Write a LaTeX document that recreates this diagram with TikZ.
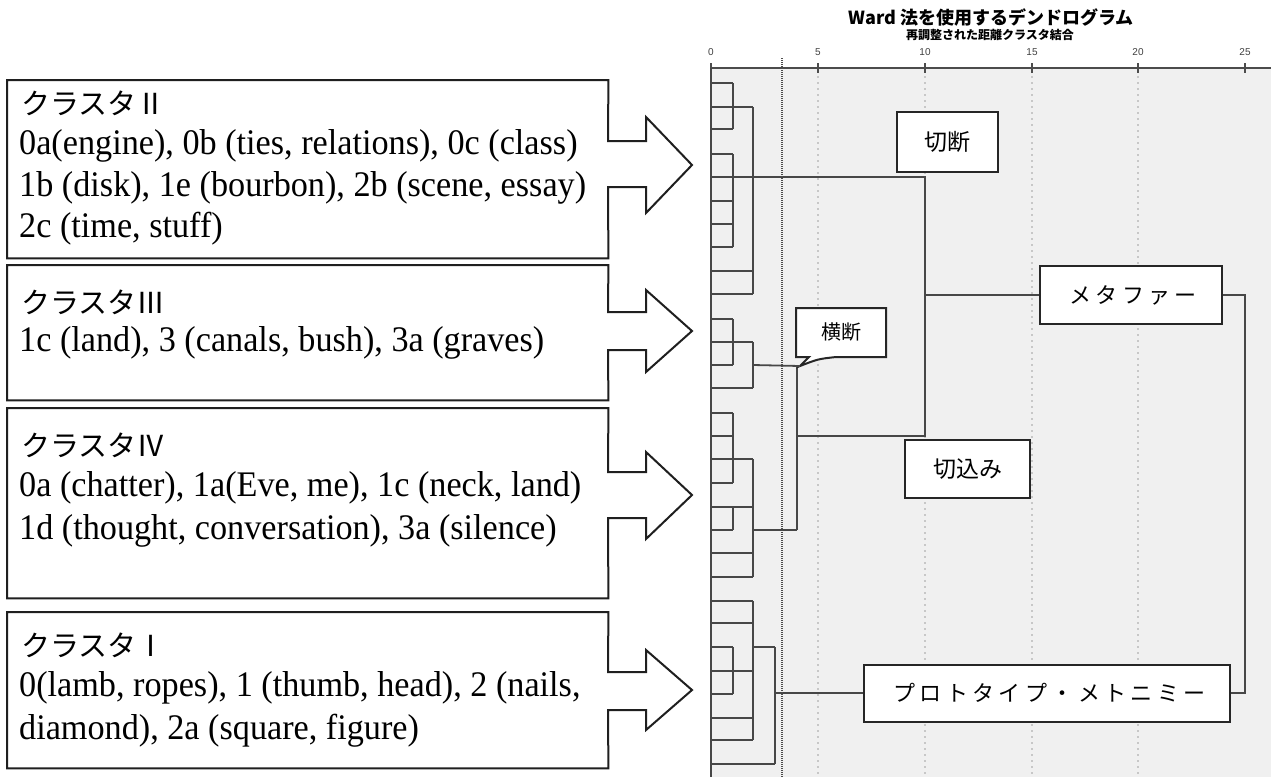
\documentclass[tikz,border=0pt]{standalone}
\usepackage{fontspec}
\setmainfont{Liberation Serif}
\newfontfamily\boxfont[FakeStretch=0.95]{Liberation Serif}
\newfontfamily\jp{Noto Sans CJK JP}
\newfontfamily\jpwide[LetterSpace=20]{Noto Sans CJK JP}
\newfontfamily\axisfont{Liberation Sans}
\begin{document}
\begin{tikzpicture}[x=1pt,y=-1pt,
  clbox/.style={draw=none, minimum width=601pt, inner sep=0pt, anchor=north west},
  outline/.style={draw=black!88, line width=2pt, fill=white, line join=miter},
  jline/.style={anchor=base west, inner sep=0pt, font=\jp\fontsize{29}{32}\selectfont},
  eline/.style={anchor=base west, inner sep=0pt, font=\boxfont\fontsize{36}{40}\selectfont},
  dline/.style={draw=black!72, line width=1.8pt},
  lab/.style={draw=black!85, line width=2pt, fill=white, inner sep=0pt},
  tick/.style={inner sep=0pt, text=black!75, font=\axisfont\fontsize{10}{12}\selectfont}
]
\useasboundingbox (0,0) rectangle (1271,777);
\fill[white] (0,0) rectangle (1271,777);

% ---------------- left cluster boxes ----------------
\node[clbox, minimum height=178pt] (b2) at (7,80) {};
\draw[outline] (b2.north west) -- (b2.north east) -- (608,141) -- (646,141) -- (646,117) -- (692,165)
  -- (646,213) -- (646,187) -- (608,187) -- (b2.south east) -- (b2.south west) -- cycle;
\node[jline] (b2a) at (21,114) {クラスタⅡ};
\node[eline] (b2b) at (19,154) {0a(engine), 0b (ties, relations), 0c (class)};
\node[eline] (b2c) at (19,196) {1b (disk), 1e (bourbon), 2b (scene, essay)};
\node[eline] (b2d) at (19,237) {2c (time, stuff)};

\node[clbox, minimum height=135pt] (b3) at (7,265) {};
\draw[outline] (b3.north west) -- (b3.north east) -- (608,312) -- (646,312) -- (646,290) -- (692,331)
  -- (646,372) -- (646,350) -- (608,350) -- (b3.south east) -- (b3.south west) -- cycle;
\node[jline] (b3a) at (21,313) {クラスタⅢ};
\node[eline] (b3b) at (19,351) {1c (land), 3 (canals, bush), 3a (graves)};

\node[clbox, minimum height=190pt] (b4) at (7,408) {};
\draw[outline] (b4.north west) -- (b4.north east) -- (608,472) -- (646,472) -- (646,452) -- (692,495)
  -- (646,539) -- (646,518) -- (608,518) -- (b4.south east) -- (b4.south west) -- cycle;
\node[jline] (b4a) at (21,456) {クラスタⅣ};
\node[eline] (b4b) at (19,496) {0a (chatter), 1a(Eve, me), 1c (neck, land)};
\node[eline] (b4c) at (19,539) {1d (thought, conversation), 3a (silence)};

\node[clbox, minimum height=156pt] (b1) at (7,612) {};
\draw[outline] (b1.north west) -- (b1.north east) -- (608,672) -- (646,672) -- (646,650) -- (692,690)
  -- (646,730) -- (646,710) -- (608,710) -- (b1.south east) -- (b1.south west) -- cycle;
\node[jline] (b1a) at (21,656) {クラスタⅠ};
\node[eline] (b1b) at (19,696) {0(lamb, ropes), 1 (thumb, head), 2 (nails,};
\node[eline] (b1c) at (19,739) {diamond), 2a (square, figure)};

% ---------------- dendrogram panel ----------------
\node[inner sep=0pt, font=\jp\bfseries\fontsize{18}{20}\selectfont] (title) at (991,18) {Ward 法を使用するデンドログラム};
\node[inner sep=0pt, font=\jp\bfseries\fontsize{12}{14}\selectfont] (subtitle) at (990,35) {再調整された距離クラスタ結合};

\fill[black!6] (711,68) rectangle (1271,777);
\foreach \x in {818,925,1032,1138}
  \draw[black!22, line width=1.2pt, dash pattern=on 2pt off 4pt] (\x,70) -- (\x,777);
\draw[black!70, line width=1.3pt, dash pattern=on 1pt off 1pt] (782,58) -- (782,777);
\draw[black!70, line width=1.8pt] (711,68) -- (1271,68);
\foreach \v/\x in {0/711,5/818,10/925,15/1032,20/1138,25/1245}{
  \draw[black!70, line width=1.2pt] (\x,63) -- (\x,73);
  \node[tick] (t\v) at (\x,52) {\v};
}
\draw[dline] (711,68) -- (711,777);

% leaves
\foreach \y in {83,129,154,201,224,247,319,365,413,436,483,530,647,694}
  \draw[dline] (711,\y) -- (733,\y);
\foreach \y in {107,271,294,342,388,459,507,553,577,601,623,671,718,740}
  \draw[dline] (711,\y) -- (753,\y);
\draw[dline] (711,764) -- (775,764);
\foreach \a/\b in {83/129,154/247,319/365,413/483,507/530,647/694}
  \draw[dline] (733,\a) -- (733,\b);
\foreach \a/\b in {107/294,342/388,459/577,601/740}
  \draw[dline] (753,\a) -- (753,\b);
\draw[dline] (775,647) -- (775,764);
\draw[dline] (753,647) -- (775,647);
\draw[dline] (797,365) -- (797,530);
\draw[dline] (753,530) -- (797,530);
\draw[dline] (711,177) -- (925,177) -- (925,436) -- (797,436);

\coordinate (c10) at (925,0);
\coordinate (c25) at (1245,0);
\coordinate (c775) at (775,0);
\coordinate (tip) at (800,366);

% labels
\node[lab, minimum width=101pt, minimum height=60pt, font=\jp\fontsize{23}{26}\selectfont] (setsudan) at (947.5,142) {切断};
\node[lab, minimum width=182pt, minimum height=58pt, font=\jpwide\fontsize{22}{26}\selectfont] (meta) at (1131,295) {\hspace*{4pt}メタファー};
\node[lab, minimum width=125pt, minimum height=58pt, font=\jp\fontsize{23}{26}\selectfont] (kirikomi) at (967.5,469) {切込み};
\node[lab, minimum width=366pt, minimum height=57pt, font=\jpwide\fontsize{22}{26}\selectfont] (proto) at (1047,693) {\hspace*{5pt}プロトタイプ・メトニミー};

\draw[lab] (796,308) -- (886,308) -- (886,357) -- (836,357) .. controls (818,359) .. (tip) -- (809,357) -- (796,357) -- cycle;
\node[inner sep=0pt, font=\jp\fontsize{20}{24}\selectfont] (oudan) at (841,332) {横断};

\draw[dline] (753,365) -- (tip);
\draw[dline] (meta.west -| c10) -- (meta.west);
\draw[dline] (proto.west -| c775) -- (proto.west);
\draw[dline] (meta.east) -- (meta.east -| c25) -- (proto.east -| c25) -- (proto.east);
\end{tikzpicture}
\end{document}
